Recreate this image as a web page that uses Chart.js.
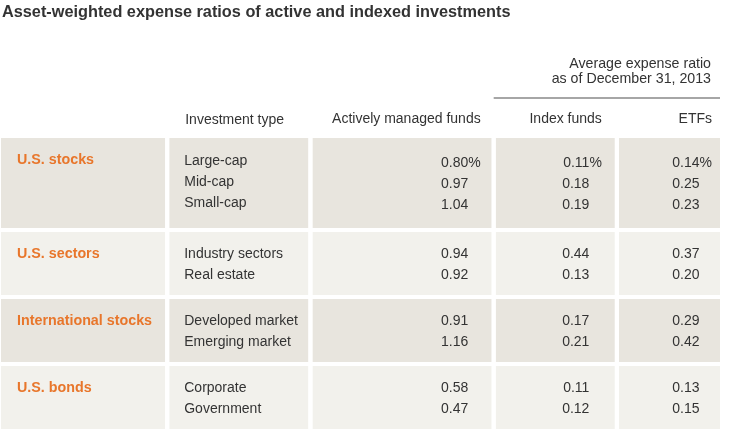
<!DOCTYPE html>
<html>
<head>
<meta charset="utf-8">
<script src="https://cdn.jsdelivr.net/npm/chart.js@4.4.1/dist/chart.umd.min.js"></script>
<style>
  html, body { margin: 0; padding: 0; background: #ffffff; }
  canvas { display: block; }
</style>
</head>
<body>
<canvas id="c" width="744" height="444"></canvas>
<script>
// ---------- data ----------
const chartTitle = 'Asset-weighted expense ratios of active and indexed investments';
const superHeader = ['Average expense ratio', 'as of December 31, 2013'];
const columnHeaders = ['', 'Investment type', 'Actively managed funds', 'Index funds', 'ETFs'];
const groups = ['U.S. stocks', 'U.S. sectors', 'International stocks', 'U.S. bonds'];
const investmentTypes = [
  ['Large-cap', 'Mid-cap', 'Small-cap'],
  ['Industry sectors', 'Real estate'],
  ['Developed market', 'Emerging market'],
  ['Corporate', 'Government']
];
const activeFunds = [[0.80, 0.97, 1.04], [0.94, 0.92], [0.91, 1.16], [0.58, 0.47]];
const indexFunds  = [[0.11, 0.18, 0.19], [0.44, 0.13], [0.17, 0.21], [0.11, 0.12]];
const etfs        = [[0.14, 0.25, 0.23], [0.37, 0.20], [0.29, 0.42], [0.13, 0.15]];
const valueColumns = [activeFunds, indexFunds, etfs];

// ---------- layout / style ----------
const FONT = '"Liberation Sans", Arial, Helvetica, sans-serif';
const TEXT = '#333333';
const ORANGE = '#E8762B';
const ROW_COLORS = ['#E8E5DE', '#F2F1EC'];
const colWidths = [164, 139, 179, 119, 101];
const GAP = 4;
const LINE_H = 21;
const ROW_PAD = 21;
const FIRST_ROW_EXTRA = 6;
const rightPad = [0, 0, 11, 13, 8];

const colLeft = [], colRight = [];
{ let acc = 0; colWidths.forEach((w, i) => { colLeft.push(acc); colRight.push(acc + w); acc += w + GAP; }); }
const totalW = colRight[colRight.length - 1];

const rowTop = [], rowBottom = [];
{ let acc = 0; investmentTypes.forEach((t, g) => {
    const h = t.length * LINE_H + ROW_PAD + (g === 0 ? FIRST_ROW_EXTRA : 0);
    rowTop.push(acc); rowBottom.push(acc + h); acc += h + GAP; }); }
const totalH = rowBottom[rowBottom.length - 1];
const HEAD = 138; // space above the table body, in the same units

// ---------- datasets: one filled segment per cell ----------
const datasets = [];
groups.forEach((g, gi) => {
  colWidths.forEach((w, ci) => {
    datasets.push({
      data: [{x: colLeft[ci], y: rowTop[gi]}, {x: colRight[ci], y: rowTop[gi]}],
      fill: {value: rowBottom[gi]},
      backgroundColor: ROW_COLORS[gi % 2],
      borderColor: 'rgba(0,0,0,0)',
      borderWidth: 0,
      pointRadius: 0,
      tension: 0
    });
  });
});
// header rule over the passive columns
datasets.push({
  data: [{x: colLeft[3] - 2, y: -40}, {x: colRight[4], y: -40}],
  fill: false,
  borderColor: '#A6A6A6',
  borderWidth: 2,
  pointRadius: 0,
  tension: 0
});

const tableText = {
  id: 'tableText',
  afterDatasetsDraw(chart) {
    const {ctx} = chart;
    const x = chart.scales.x, y = chart.scales.y;
    const px = v => x.getPixelForValue(v);
    const py = v => y.getPixelForValue(v);
    ctx.save();
    ctx.textBaseline = 'alphabetic';
    ctx.fillStyle = TEXT;

    // title
    ctx.font = 'bold 16.3px ' + FONT;
    ctx.textAlign = 'left';
    ctx.fillText(chartTitle, px(0) + 1, py(-121));

    // super header
    ctx.font = '14.2px ' + FONT;
    ctx.textAlign = 'right';
    ctx.fillText(superHeader[0], px(colRight[4]) - 9, py(-70));
    ctx.fillText(superHeader[1], px(colRight[4]) - 9, py(-55));

    // column headers
    ctx.font = '14px ' + FONT;
    ctx.textAlign = 'left';
    ctx.fillText(columnHeaders[1], px(colLeft[1]) + 16, py(-14.5));
    ctx.textAlign = 'right';
    for (let c = 2; c < 5; c++) {
      ctx.fillText(columnHeaders[c], px(colRight[c]) - rightPad[c], py(-15));
    }

    const pctW = ctx.measureText('%').width;
    groups.forEach((g, gi) => {
      const base = rowTop[gi] + 26;
      // group label
      ctx.font = 'bold 14.3px ' + FONT;
      ctx.fillStyle = ORANGE;
      ctx.textAlign = 'left';
      ctx.fillText(g, px(colLeft[0]) + 16, py(base));
      // types
      ctx.font = '14px ' + FONT;
      ctx.fillStyle = TEXT;
      investmentTypes[gi].forEach((t, li) => {
        ctx.textAlign = 'left';
        ctx.fillText(t, px(colLeft[1]) + 15, py(base + li * LINE_H + (gi === 0 ? 1 : 0)));
      });
      // values
      ctx.textAlign = 'right';
      valueColumns.forEach((col, k) => {
        const c = k + 2;
        col[gi].forEach((v, li) => {
          const isFirst = gi === 0 && li === 0;
          const txt = v.toFixed(2) + (isFirst ? '%' : '');
          const xr = px(colRight[c]) - rightPad[c] - (isFirst ? 0 : pctW);
          ctx.fillText(txt, xr, py(base + li * LINE_H + (gi === 0 ? 3 : 0)));
        });
      });
    });
    ctx.restore();
  }
};

new Chart(document.getElementById('c'), {
  type: 'line',
  data: { datasets },
  options: {
    responsive: false,
    animation: false,
    events: [],
    layout: { padding: { left: 1, right: 744 - 1 - totalW - 1, top: 0, bottom: 444 - HEAD - totalH } },
    plugins: { legend: { display: false }, tooltip: { enabled: false }, title: { display: false } },
    scales: {
      x: { type: 'linear', min: 0, max: totalW, display: false },
      y: { type: 'linear', min: -HEAD, max: totalH, reverse: true, display: false }
    }
  },
  plugins: [tableText]
});
</script>
</body>
</html>
